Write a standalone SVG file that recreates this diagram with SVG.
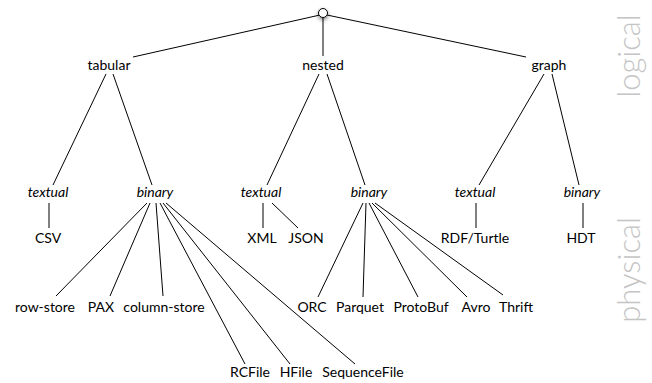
<svg xmlns="http://www.w3.org/2000/svg" width="652" height="383" viewBox="0 0 652 383">
<defs>
<style>
text{font-family:Lato,"Open Sans","DejaVu Sans",sans-serif;font-size:14px;fill:#000;text-anchor:middle}
.it{font-style:italic}
.side{font-size:31px;font-weight:300;fill:#c4c4c4}
.e line{stroke:#000;stroke-width:1}
</style>
<filter id="sh" x="-2" y="-2" width="5" height="5">
<feGaussianBlur in="SourceAlpha" stdDeviation="2"/>
<feOffset dy="2"/>
<feComponentTransfer><feFuncA type="linear" slope="0.5"/></feComponentTransfer>
<feMerge><feMergeNode/><feMergeNode in="SourceGraphic"/></feMerge>
</filter>
</defs>
<rect width="652" height="383" fill="#fff"/>
<g class="e" id="connectors">
<line x1="320" y1="15" x2="133" y2="57"/>
<line x1="323" y1="18" x2="323" y2="56"/>
<line x1="327" y1="15" x2="526" y2="57"/>
<line x1="106" y1="74" x2="53" y2="185"/>
<line x1="113" y1="74" x2="152" y2="185"/>
<line x1="319" y1="74" x2="267" y2="185"/>
<line x1="327" y1="74" x2="365" y2="185"/>
<line x1="544" y1="74" x2="479" y2="185"/>
<line x1="552" y1="74" x2="579" y2="185"/>
<line x1="49" y1="203" x2="49" y2="228"/>
<line x1="263" y1="203" x2="263" y2="228"/>
<line x1="272" y1="203" x2="298" y2="228"/>
<line x1="476" y1="203" x2="476" y2="228"/>
<line x1="583" y1="203" x2="583" y2="228"/>
<line x1="147" y1="203" x2="56" y2="296"/>
<line x1="150" y1="203" x2="110" y2="296"/>
<line x1="156" y1="203" x2="163" y2="296"/>
<line x1="160" y1="203" x2="245" y2="364"/>
<line x1="163" y1="203" x2="290" y2="364"/>
<line x1="166" y1="203" x2="355" y2="364"/>
<line x1="363" y1="203" x2="318" y2="297"/>
<line x1="366" y1="203" x2="363" y2="297"/>
<line x1="369" y1="203" x2="418" y2="297"/>
<line x1="372" y1="203" x2="467" y2="297"/>
<line x1="375" y1="203" x2="503" y2="295"/>
</g>
<g id="root"><circle cx="323" cy="13" r="4.5" fill="#fff" stroke="#000" stroke-width="1" filter="url(#sh)"/></g>
<g id="tabular"><text x="109" y="70">tabular</text></g>
<g id="nested"><text x="323" y="70">nested</text></g>
<g id="graph"><text x="549" y="70">graph</text></g>
<g id="tab-textual"><text class="it" x="48" y="197">textual</text></g>
<g id="tab-binary"><text class="it" x="155" y="197">binary</text></g>
<g id="nest-textual"><text class="it" x="261" y="197">textual</text></g>
<g id="nest-binary"><text class="it" x="369" y="197">binary</text></g>
<g id="graph-textual"><text class="it" x="475" y="197">textual</text></g>
<g id="graph-binary"><text class="it" x="582" y="197">binary</text></g>
<g id="csv"><text x="48" y="243">CSV</text></g>
<g id="xml"><text x="262" y="243">XML</text></g>
<g id="json"><text x="306" y="243">JSON</text></g>
<g id="rdf"><text x="475" y="243">RDF/Turtle</text></g>
<g id="hdt"><text x="581" y="243">HDT</text></g>
<g id="rowstore"><text x="45" y="312">row-store</text></g>
<g id="pax"><text x="101" y="312">PAX</text></g>
<g id="colstore"><text x="164" y="312">column-store</text></g>
<g id="orc"><text x="312" y="312">ORC</text></g>
<g id="parquet"><text x="360" y="312">Parquet</text></g>
<g id="protobuf"><text x="421" y="312">ProtoBuf</text></g>
<g id="avro"><text x="476" y="312">Avro</text></g>
<g id="thrift"><text x="516" y="312">Thrift</text></g>
<g id="rcfile"><text x="250" y="377">RCFile</text></g>
<g id="hfile"><text x="296" y="377">HFile</text></g>
<g id="seqfile"><text x="363" y="377">SequenceFile</text></g>
<g id="side-labels">
<text class="side" transform="translate(640,56) rotate(-90)">logical</text>
<text class="side" transform="translate(640,270) rotate(-90)">physical</text>
</g>
</svg>
